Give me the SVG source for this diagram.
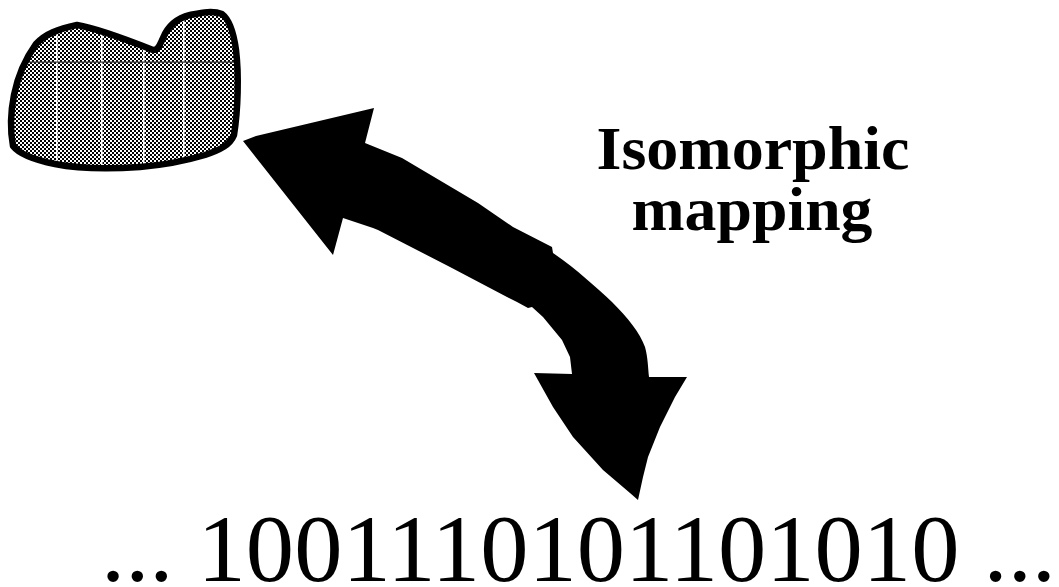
<svg xmlns="http://www.w3.org/2000/svg" width="1059" height="587" viewBox="0 0 1059 587">
<style>
.label{font-family:"Liberation Serif","Times New Roman",serif;font-weight:bold;font-size:61px;fill:#000;text-anchor:middle}
.bits{font-family:"Liberation Serif","Times New Roman",serif;font-size:95px;fill:#000}
</style>
<defs>
<pattern id="checker" x="0" y="0" width="4" height="4" patternUnits="userSpaceOnUse">
<rect width="4" height="4" fill="#fff"/>
<rect x="0" y="0" width="2" height="2" fill="#000"/>
<rect x="2" y="2" width="2" height="2" fill="#000"/>
</pattern>
<clipPath id="blobClip">
<path id="blobPath" d="M77,25 C95,28 120,37 153,50 C158,50 160,45 163,38 C168,26 178,18 190,15 C200,13 212,10 222,14 C230,20 234,35 236,50 C239,75 238,110 234,135 C230,145 220,150 205,155 C185,161 165,165 140,167 C110,169 80,169 55,164 C35,160 20,155 13,146 C10,130 11,110 14,95 C18,75 26,58 36,44 C45,34 58,29 77,25 Z"/>
</clipPath>
</defs>
<g id="blob">
<g clip-path="url(#blobClip)">
<rect x="0" y="0" width="250" height="180" fill="url(#checker)"/>
<rect x="56" y="0" width="1.5" height="180" fill="#fff"/>
<rect x="101" y="0" width="1.5" height="180" fill="#fff"/>
<rect x="143" y="0" width="1.5" height="180" fill="#fff"/>
<rect x="183" y="0" width="1.5" height="180" fill="#fff"/>
<rect x="0" y="61.5" width="250" height="1.2" fill="#333"/>
</g>
<use href="#blobPath" fill="none" stroke="#000" stroke-width="6.5" stroke-linejoin="round"/>
</g>
<g id="connectors">
<path id="double-arrow" fill="#000" d="M243,141 L256,136 L374,108 L365,143 L402,158 L478,203 L513,227 L552,247 L553,253 C575,268 597,288 612,302 C628,318 640,333 645,347 C648,358 648,368 649,377 L687,377 L675,397 L660,427 L648,457 L643,477 L638,500 L630,493 L603,470 L573,437 L553,407 L534,373 L572,374 L570,357 L562,340 L543,317 L532,307 L528,308 L517,302 L507,297 L450,267 L378,230 L373,228 L343,218 L333,255 Z"/>
</g>
<g id="label">
<text class="label" x="753" y="169" textLength="313" lengthAdjust="spacingAndGlyphs">Isomorphic</text>
<text class="label" x="752" y="230" textLength="241" lengthAdjust="spacingAndGlyphs">mapping</text>
</g>
<g id="bitstring">
<text class="bits" x="101" y="581" textLength="955" lengthAdjust="spacingAndGlyphs">... 1001110101101010 ...</text>
</g>
</svg>
